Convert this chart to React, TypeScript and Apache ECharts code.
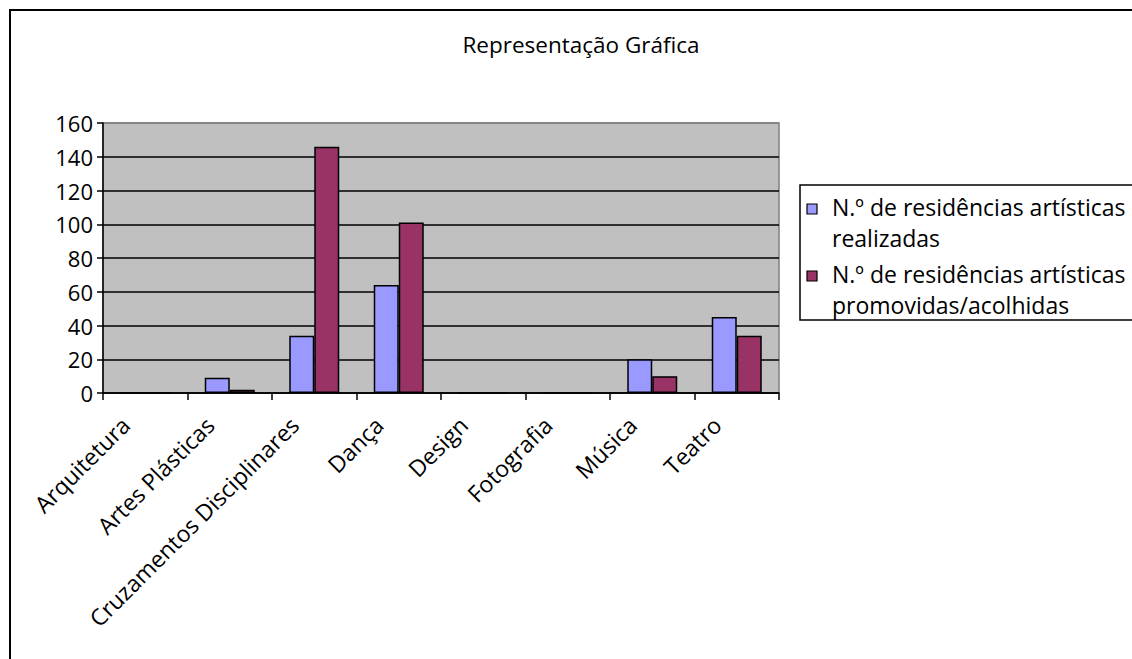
import React, { useEffect, useRef } from "react";
import * as echarts from "echarts";

const categories = [
  "Arquitetura",
  "Artes Plásticas",
  "Cruzamentos Disciplinares",
  "Dança",
  "Design",
  "Fotografia",
  "Música",
  "Teatro",
];
const seriesNames = [
  "N.º de residências artísticas realizadas",
  "N.º de residências artísticas promovidas/acolhidas",
];
const realizadas = [0, 9, 34, 64, 0, 0, 20, 45];
const promovidas = [0, 2, 146, 101, 0, 0, 10, 34];
const yTicks = [0, 20, 40, 60, 80, 100, 120, 140, 160];
const colors = ["#9999FF", "#993366"];

const FONT = "'Open Sans', 'Noto Sans', sans-serif";

export default function App() {
  const ref = useRef<HTMLDivElement>(null);
  useEffect(() => {
    if (!ref.current) return;
    const chart = echarts.init(ref.current, null, { renderer: "svg" });
    const splitColors = yTicks.map((_, i) => (i === yTicks.length - 1 ? "#808080" : "#000000"));
    const legendGraphics: any[] = [];
    seriesNames.forEach((name, i) => {
      const idx = name.indexOf("artísticas ") + "artísticas".length;
      const lines = [name.slice(0, idx), name.slice(idx + 1)];
      const baseTop = 207 + i * 67;
      legendGraphics.push({
        type: "rect",
        shape: { x: 807, y: baseTop - 3, width: 10, height: 10 },
        style: { fill: colors[i], stroke: "#000", lineWidth: 1.2 },
        z: 10,
      });
      lines.forEach((ln, j) => {
        legendGraphics.push({
          type: "text",
          x: 832,
          y: baseTop + j * 31,
          style: {
            text: ln,
            fill: "#000",
            font: `23px ${FONT}`,
            textVerticalAlign: "middle",
          },
          z: 10,
        });
      });
    });
    chart.setOption({
      animation: false,
      backgroundColor: "#ffffff",
      textStyle: { fontFamily: FONT },
      title: {
        text: "Representação Gráfica",
        left: 576,
        textAlign: "center",
        top: 28,
        textStyle: { fontSize: 22.5, fontWeight: "normal", color: "#000", fontFamily: FONT },
      },
      grid: {
        left: 103,
        top: 123,
        width: 676,
        height: 270,
        show: true,
        backgroundColor: "#C0C0C0",
        borderColor: "#808080",
        borderWidth: 1.5,
      },
      xAxis: {
        type: "category",
        data: categories,
        axisLine: { show: true, lineStyle: { color: "#000", width: 1.5 } },
        axisTick: { show: true, length: 7, lineStyle: { color: "#000", width: 1.5 } },
        axisLabel: {
          rotate: 45,
          interval: 0,
          fontSize: 23,
          color: "#000",
          fontFamily: FONT,
          margin: 8,
          padding: [0, 28, 0, 0],
        },
      },
      yAxis: {
        type: "value",
        min: 0,
        max: 160,
        interval: 20,
        axisLine: { show: true, lineStyle: { color: "#000", width: 1.5 } },
        axisTick: { show: true, length: 6, lineStyle: { color: "#000", width: 1.5 } },
        axisLabel: { fontSize: 22, color: "#000", fontFamily: FONT, margin: 10 },
        splitLine: { show: true, lineStyle: { color: splitColors, width: 1.5 } },
      },
      series: [
        {
          name: seriesNames[0],
          type: "bar",
          data: realizadas,
          barWidth: 25,
          barGap: "0%",
          itemStyle: { color: colors[0], borderColor: "#000", borderWidth: 1.5 },
        },
        {
          name: seriesNames[1],
          type: "bar",
          data: promovidas,
          barWidth: 25,
          barGap: "0%",
          itemStyle: { color: colors[1], borderColor: "#000", borderWidth: 1.5 },
        },
      ],
      graphic: [
        {
          type: "rect",
          shape: { x: 10, y: 10, width: 1200, height: 700 },
          style: { fill: "none", stroke: "#000", lineWidth: 2 },
          z: 10,
        },
        {
          type: "rect",
          shape: { x: 800, y: 185, width: 400, height: 135 },
          style: { fill: "#fff", stroke: "#000", lineWidth: 1.5 },
          z: 9,
        },
        ...legendGraphics,
      ],
    });
    return () => chart.dispose();
  }, []);
  return (
    <div
      ref={ref}
      style={{ position: "fixed", left: 0, top: 0, width: 1132, height: 659 }}
    />
  );
}
